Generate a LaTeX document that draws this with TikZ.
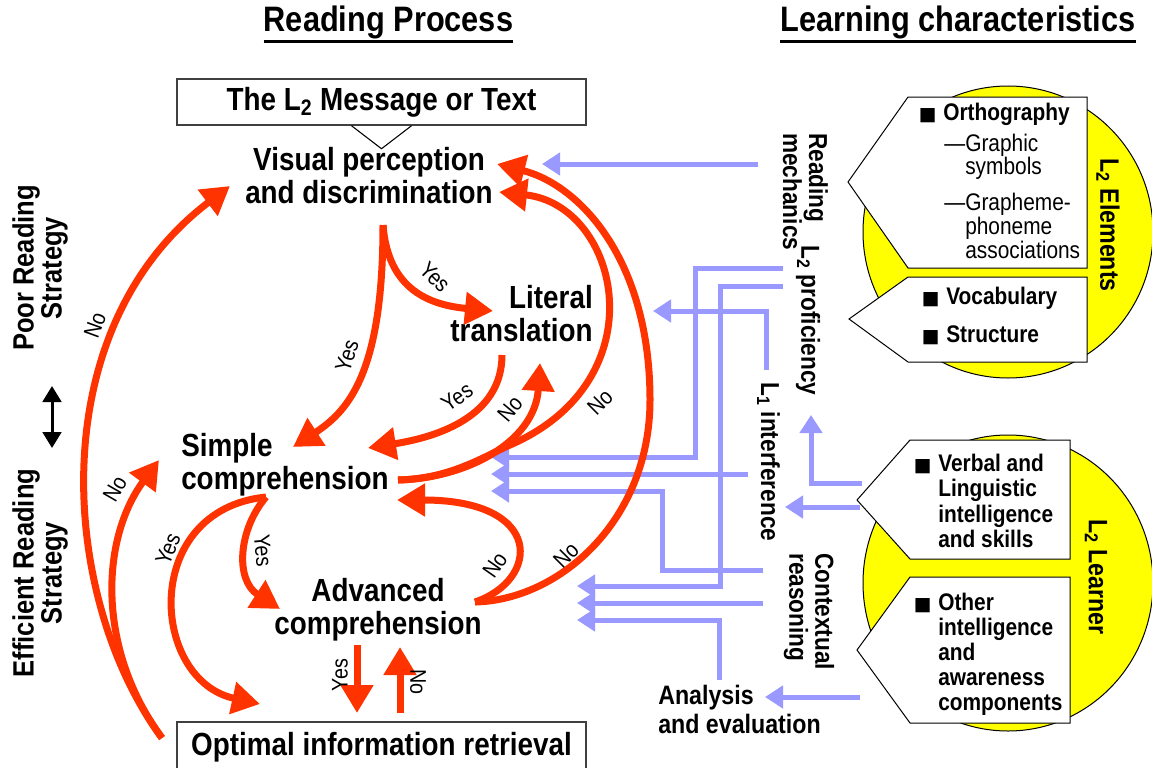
\documentclass[tikz,border=0pt]{standalone}
\usepackage{fontspec}
\setmainfont[FakeStretch=0.87]{Liberation Sans}
\newfontfamily\symfont{DejaVu Sans}
\usetikzlibrary{arrows.meta}

\definecolor{flowred}{HTML}{FF3300}
\definecolor{feedblue}{HTML}{9999FF}
\definecolor{padyellow}{HTML}{FFFF00}

\newcommand{\sqbullet}{\llap{{\symfont\fontsize{14}{14}\selectfont ■}\hspace{5pt}}}

\tikzset{
	heading/.style = {inner sep = 0, font = \bfseries\fontsize{26.5}{28}\selectfont},
	procnode/.style = {inner sep = 0, align = center, font = \bfseries\fontsize{24}{24.75}\selectfont},
	framebox/.style = {procnode, draw = black!75, line width = 1.1pt, fill = white, minimum width = 306.75pt, minimum height = 34.5pt},
	answer/.style = {inner sep = 0, font = \fontsize{17}{17}\selectfont},
	sidenote/.style = {rotate = -90, anchor = west, align = left, inner sep = 0, font = \bfseries\fontsize{19.5}{19.5}\selectfont},
	strategy/.style = {rotate = 90, align = center, inner sep = 0, font = \bfseries\fontsize{22}{18}\selectfont},
	grouptext/.style = {rotate = -90, inner sep = 0, font = \bfseries\fontsize{20}{20}\selectfont},
	calltext/.style = {anchor = west, align = left, inner sep = 0, font = \bfseries\fontsize{18}{19}\selectfont},
	callsub/.style = {anchor = west, align = left, inner sep = 0, font = \fontsize{18}{17.25}\selectfont},
	callout/.style = {draw = black, line width = 0.75pt, fill = white},
	pad/.style = {draw = black, line width = 0.75pt, fill = padyellow},
	flow/.style = {draw = flowred, line width = 5.25pt, -{Triangle[length = 21pt, width = 23.5pt]}},
	feed/.style = {draw = feedblue, line width = 3.75pt, -{Triangle[length = 13.5pt, width = 16.5pt]}}
}

\begin{document}
\begin{tikzpicture}[x = 75pt, y = -75pt, > = {Triangle[length = 12pt, width = 14pt]}]

\useasboundingbox (0, 0) rectangle (11.52, 7.67);

% Headings

\node [heading] (process) at (3.885, 0.22) {Reading Process};
\node [heading] (traits) at (9.58, 0.22) {Learning characteristics};
\draw [line width = 2.2pt] ([yshift = -2pt] process.south west) -- ([yshift = -2pt] process.south east);
\draw [line width = 2.2pt] ([yshift = -2pt] traits.south west) -- ([yshift = -2pt] traits.south east);

% Yellow pads and their callouts

\draw [pad] (10.08, 2.32) ellipse [x radius = 1.45, y radius = 1.46];
\draw [pad] (10.08, 5.83) ellipse [x radius = 1.45, y radius = 1.48];

\draw [callout] (8.48, 1.82) -- (9.08, 0.97) -- (10.87, 0.97) -- (10.87, 2.68) -- (9.08, 2.68) -- cycle;
\draw [callout] (8.49, 3.19) -- (9.08, 2.77) -- (10.87, 2.77) -- (10.87, 3.62) -- (9.08, 3.62) -- cycle;
\draw [callout] (8.57, 5.00) -- (9.10, 4.40) -- (10.70, 4.40) -- (10.70, 5.59) -- (9.10, 5.59) -- cycle;
\draw [callout] (8.57, 6.50) -- (9.10, 5.77) -- (10.70, 5.77) -- (10.70, 7.23) -- (9.10, 7.23) -- cycle;

\node [calltext] (ortho) at (9.43, 1.147) {\sqbullet Orthography};
\node [callsub] (graphic) at (9.65, 1.57) {\llap{—}Graphic\\symbols};
\node [callsub, font = \fontsize{18}{15.4}\selectfont] (grapheme) at (9.65, 2.26) {\llap{—}Grapheme-\\phoneme\\associations};
\node [calltext] (vocab) at (9.46, 3.16) {\sqbullet Vocabulary\\[9.5pt]\sqbullet Structure};
\node [calltext] (verbal) at (9.38, 5.01) {\sqbullet Verbal and\\Linguistic\\intelligence\\and skills};
\node [calltext, font = \bfseries\fontsize{18}{18.75}\selectfont] (other) at (9.38, 6.54) {\sqbullet Other\\intelligence\\and\\awareness\\components};

\node [grouptext] (elements) at (11.08, 2.25) {L\textsubscript{2} Elements};
\node [grouptext] (learner) at (10.96, 5.77) {L\textsubscript{2} Learner};

% Learning characteristics feeding the process

\node [sidenote] (mechanics) at (8.055, 1.33) {Reading\\mechanics};
\node [sidenote] (proficiency) at (8.08, 2.45) {L\textsubscript{2} proficiency};
\node [sidenote] (interference) at (7.685, 3.82) {L\textsubscript{1} interference};
\node [sidenote] (contextual) at (8.09, 5.53) {Contextual\\reasoning};
\node [inner sep = 0, align = left, anchor = west, font = \bfseries\fontsize{20}{21.75}\selectfont] (analysis) at (6.58, 7.09) {Analysis\\and evaluation};

% Strategies

\node [strategy] (poor) at (0.40, 2.68) {Poor Reading\\Strategy};
\node [strategy] (efficient) at (0.40, 5.73) {Efficient Reading\\Strategy};
\coordinate (swap-top) at (0.52, 3.86);
\coordinate (swap-bot) at (0.52, 4.48);
\draw [<->, line width = 2.25pt] (swap-top) -- (swap-bot);

% Reading process

\node [framebox] (msg) at (3.815, 1.02) {The L\textsubscript{2} Message or Text};
\draw [line width = 0.8pt] (msg.south) ++(-0.30, 0) -- ++(0.30, 0.23) -- ++(0.30, -0.23);

\node [procnode] (visual) at (3.69, 1.76) {Visual perception\\and discrimination};
\node [procnode, align = right, anchor = east] (literal) at (5.93, 3.135) {Literal\\translation};
\node [procnode, align = left, anchor = west] (simple) at (1.81, 4.645) {Simple\\comprehension};
\node [procnode] (advanced) at (3.78, 6.095) {Advanced\\comprehension};
\node [framebox, minimum height = 37.5pt] (optimal) at (3.815, 7.47) {Optimal information retrieval};

% Blue feeds

\coordinate (mech-out) at (7.58, 1.64);
\coordinate (vis-feed) at (5.42, 1.64);
\coordinate (prof-out-a) at (7.83, 2.68);
\coordinate (prof-out-b) at (7.83, 2.86);
\coordinate (inter-out-a) at (7.66, 3.70);
\coordinate (inter-out-b) at (7.48, 4.74);
\coordinate (lit-feed) at (6.53, 3.11);
\coordinate (simple-feed-a) at (4.91, 4.57);
\coordinate (simple-feed-b) at (4.91, 4.74);
\coordinate (simple-feed-c) at (4.91, 4.91);
\coordinate (context-out-a) at (7.63, 5.70);
\coordinate (context-out-b) at (7.63, 6.03);
\coordinate (analysis-out) at (7.19, 6.80);
\coordinate (adv-feed-a) at (5.77, 5.86);
\coordinate (adv-feed-b) at (5.77, 6.03);
\coordinate (adv-feed-c) at (5.77, 6.20);
\coordinate (learner-out-a) at (8.62, 4.83);
\coordinate (learner-out-b) at (8.60, 5.07);
\coordinate (learner-out-c) at (8.60, 6.97);
\coordinate (prof-in) at (8.11, 4.15);
\coordinate (inter-in) at (7.85, 5.07);
\coordinate (analysis-in) at (7.65, 6.97);

\draw [feed] (mech-out) -- (vis-feed);
\draw [feed] (prof-out-a) -- ++(-0.88, 0) |- (simple-feed-a);
\draw [feed] (prof-out-b) -- ++(-0.63, 0) |- (adv-feed-a);
\draw [feed] (inter-out-a) |- (lit-feed);
\draw [feed] (inter-out-b) -- (simple-feed-b);
\draw [feed] (context-out-a) -- ++(-1.01, 0) |- (simple-feed-c);
\draw [feed] (context-out-b) -- (adv-feed-b);
\draw [feed] (analysis-out) |- (adv-feed-c);
\draw [feed] (learner-out-a) -| (prof-in);
\draw [feed] (learner-out-b) -- (inter-in);
\draw [feed] (learner-out-c) -- (analysis-in);

% Red decisions

\coordinate (opt-out) at (1.62, 7.38);
\coordinate (vis-in-left) at (2.30, 1.86);
\coordinate (simple-in-left) at (1.59, 4.60);
\coordinate (vis-out) at (3.83, 2.25);
\coordinate (simple-in-top) at (2.93, 4.47);
\coordinate (lit-in) at (4.93, 3.11);
\coordinate (lit-out) at (5.02, 3.55);
\coordinate (simple-in-right) at (3.68, 4.48);
\coordinate (simple-out) at (3.98, 4.80);
\coordinate (lit-in-bottom) at (5.40, 3.63);
\coordinate (vis-in-b) at (4.99, 1.92);
\coordinate (adv-out) at (4.75, 6.02);
\coordinate (simple-in-low) at (3.97, 5.00);
\coordinate (vis-in-a) at (4.97, 1.64);
\coordinate (simple-down) at (2.66, 4.97);
\coordinate (opt-in-left) at (2.60, 7.04);
\coordinate (adv-in) at (2.80, 6.09);
\coordinate (adv-down) at (3.57, 6.45);
\coordinate (opt-top-a) at (3.57, 7.13);
\coordinate (opt-top-b) at (4.00, 7.13);
\coordinate (adv-up) at (4.00, 6.47);

\draw [flow] (opt-out) .. controls (0.60, 6.00) and (0.40, 3.30) .. (vis-in-left);
\draw [flow] (opt-out) .. controls (0.97, 6.50) and (1.00, 5.40) .. (simple-in-left);
\draw [flow] (vis-out) .. controls (3.83, 3.70) and (3.50, 4.10) .. (simple-in-top);
\draw [flow] (vis-out) .. controls (3.88, 2.90) and (4.30, 3.05) .. (lit-in);
\draw [flow] (lit-out) .. controls (5.02, 4.10) and (4.50, 4.35) .. (simple-in-right);
\draw [flow] (simple-out) .. controls (4.70, 4.78) and (5.35, 4.40) .. (lit-in-bottom);
\draw [flow] (simple-out) .. controls (4.50, 4.79) and (4.85, 4.56) .. (5.10, 4.45)
	.. controls (6.60, 3.80) and (6.20, 2.05) .. (vis-in-b);
\draw [flow] (adv-out) .. controls (5.40, 5.80) and (5.45, 5.00) .. (simple-in-low);
\draw [flow] (adv-out) .. controls (5.60, 6.00) and (6.50, 5.20) .. (6.50, 4.00)
	.. controls (6.50, 2.60) and (5.80, 1.85) .. (vis-in-a);
\draw [flow] (simple-down) .. controls (1.40, 5.10) and (1.50, 6.80) .. (opt-in-left);
\draw [flow] (simple-down) .. controls (2.38, 5.30) and (2.35, 5.80) .. (adv-in);
\draw [flow] (adv-down) -- (opt-top-a);
\draw [flow] (opt-top-b) -- (adv-up);

\node [answer, rotate = 70] (no-e) at (0.95, 3.25) {No};
\node [answer, rotate = 60] (no-f) at (1.15, 4.89) {No};
\node [answer, rotate = 72] (yes-a) at (3.47, 3.56) {Yes};
\node [answer, rotate = -45] (yes-b) at (4.35, 2.77) {Yes};
\node [answer, rotate = 35] (yes-c) at (4.57, 3.97) {Yes};
\node [answer, rotate = 50] (no-a) at (5.10, 4.09) {No};
\node [answer, rotate = 45] (no-b) at (6.00, 4.02) {No};
\node [answer, rotate = 55] (no-c) at (4.95, 5.65) {No};
\node [answer, rotate = 45] (no-d) at (5.66, 5.55) {No};
\node [answer, rotate = 68] (yes-d) at (1.68, 5.49) {Yes};
\node [answer, rotate = -85] (yes-e) at (2.63, 5.51) {Yes};
\node [answer, rotate = 90] (yes-f) at (3.40, 6.75) {Yes};
\node [answer, rotate = -90] (no-g) at (4.18, 6.82) {No};

\end{tikzpicture}
\end{document}
